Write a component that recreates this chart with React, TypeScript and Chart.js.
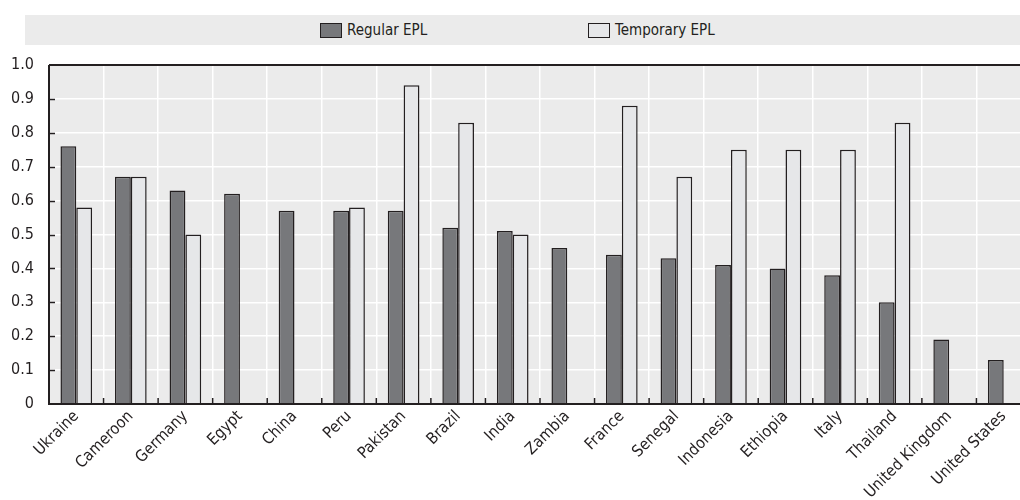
import React, { useEffect, useRef } from "react";
import { Chart, registerables } from "chart.js";

Chart.register(...registerables);

const categories = [
  "Ukraine", "Cameroon", "Germany", "Egypt", "China", "Peru", "Pakistan", "Brazil", "India",
  "Zambia", "France", "Senegal", "Indonesia", "Ethiopia", "Italy", "Thailand", "United Kingdom", "United States",
];
const regularEPL = [0.76, 0.67, 0.63, 0.62, 0.57, 0.57, 0.57, 0.52, 0.51, 0.46, 0.44, 0.43, 0.41, 0.40, 0.38, 0.30, 0.19, 0.13];
const temporaryEPL: (number | null)[] = [0.58, 0.67, 0.50, null, null, 0.58, 0.94, 0.83, 0.50, null, 0.88, 0.67, 0.75, 0.75, 0.75, 0.83, null, null];
const seriesNames = ["Regular EPL", "Temporary EPL"];
const yMin = 0;
const yMax = 1;
const yStep = 0.1;

const FONT = "'DejaVu Sans Condensed', 'Liberation Sans Narrow', 'Liberation Sans', Arial, sans-serif";
const DARK = "#77787b";
const LIGHT = "#e6e7e9";
const BORDER = "#231f20";
const PANEL = "#ebebeb";

export default function App() {
  const ref = useRef<HTMLCanvasElement>(null);

  useEffect(() => {
    document.body.style.margin = "0";
    const canvas = ref.current!;
    const framePlugin = {
      id: "frame",
      beforeDraw(chart: any) {
        const { ctx, chartArea: a } = chart;
        ctx.save();
        ctx.fillStyle = PANEL;
        ctx.fillRect(a.left, a.top, a.right - a.left, a.bottom - a.top);
        ctx.restore();
      },
      afterDraw(chart: any) {
        const { ctx, chartArea: a, scales } = chart;
        ctx.save();
        ctx.strokeStyle = BORDER;
        ctx.lineWidth = 2;
        ctx.beginPath();
        ctx.moveTo(a.left, a.top);
        ctx.lineTo(a.left, a.bottom);
        ctx.lineTo(a.right, a.bottom);
        ctx.moveTo(a.left, a.top);
        ctx.lineTo(a.right, a.top);
        ctx.stroke();
        ctx.lineWidth = 1.5;
        const y = scales.y;
        y.ticks.forEach((t: any) => {
          const py = Math.round(y.getPixelForValue(t.value)) + 0.5;
          if (t.value <= yMin || t.value >= yMax) return;
          ctx.beginPath();
          ctx.moveTo(a.left, py);
          ctx.lineTo(a.left + 6, py);
          ctx.stroke();
        });
        const x = scales.x;
        for (let i = 1; i < categories.length; i++) {
          const px = (x.getPixelForTick(i - 1) + x.getPixelForTick(i)) / 2;
          ctx.beginPath();
          ctx.moveTo(px, a.bottom);
          ctx.lineTo(px, a.bottom - 6);
          ctx.stroke();
        }
        ctx.restore();
      },
    };

    const chart = new Chart(canvas, {
      type: "bar",
      data: {
        labels: categories,
        datasets: [
          {
            label: seriesNames[0],
            data: regularEPL,
            backgroundColor: DARK,
            borderColor: BORDER,
            borderWidth: 1.5,
            categoryPercentage: 0.58,
            barPercentage: 1,
          },
          {
            label: seriesNames[1],
            data: temporaryEPL,
            backgroundColor: LIGHT,
            borderColor: BORDER,
            borderWidth: 1.5,
            categoryPercentage: 0.58,
            barPercentage: 1,
          },
        ],
      },
      options: {
        animation: false,
        responsive: false,
        maintainAspectRatio: false,
        layout: { padding: { top: 65, right: 4, left: 0, bottom: 0 } },
        plugins: { legend: { display: false }, tooltip: { enabled: false } },
        scales: {
          x: {
            offset: true,
            grid: { color: "#ffffff", lineWidth: 1.5, offset: true, drawTicks: false },
            border: { display: false },
            ticks: {
              minRotation: 45,
              maxRotation: 45,
              autoSkip: false,
              padding: 3,
              color: "#231f20",
              font: { family: FONT, size: 16 },
            },
            afterFit(scale: any) {
              scale.height = 96;
            },
          },
          y: {
            min: yMin,
            max: yMax,
            grid: { color: "#ffffff", lineWidth: 1.5, drawTicks: false },
            border: { display: false },
            ticks: {
              stepSize: yStep,
              padding: 15,
              color: "#231f20",
              font: { family: FONT, size: 16 },
              callback: (v: any) => (Number(v) === 0 ? "0" : Number(v).toFixed(1)),
            },
            afterFit(scale: any) {
              scale.width = 49;
            },
          },
        },
      },
      plugins: [framePlugin],
    });
    return () => chart.destroy();
  }, []);

  const legendText: React.CSSProperties = {
    position: "absolute",
    top: 21,
    fontFamily: FONT,
    fontSize: 15,
    color: "#231f20",
    lineHeight: "18px",
  };
  const box = (bg: string, left: number): React.CSSProperties => ({
    position: "absolute",
    left,
    top: 23,
    width: 20,
    height: 13,
    background: bg,
    border: `1px solid ${BORDER}`,
  });

  return (
    <div style={{ position: "absolute", left: 0, top: 0, width: 1020, height: 500, overflow: "hidden", background: "#fff" }}>
      <canvas ref={ref} width={1035} height={500} style={{ position: "absolute", left: 0, top: 0, width: 1035, height: 500 }} />
      <div style={{ position: "absolute", left: 25, top: 15, width: 995, height: 30, background: PANEL }} />
      <div style={box(DARK, 320)} />
      <span style={{ ...legendText, left: 347 }}>{seriesNames[0]}</span>
      <div style={box(LIGHT, 588)} />
      <span style={{ ...legendText, left: 615 }}>{seriesNames[1]}</span>
    </div>
  );
}
